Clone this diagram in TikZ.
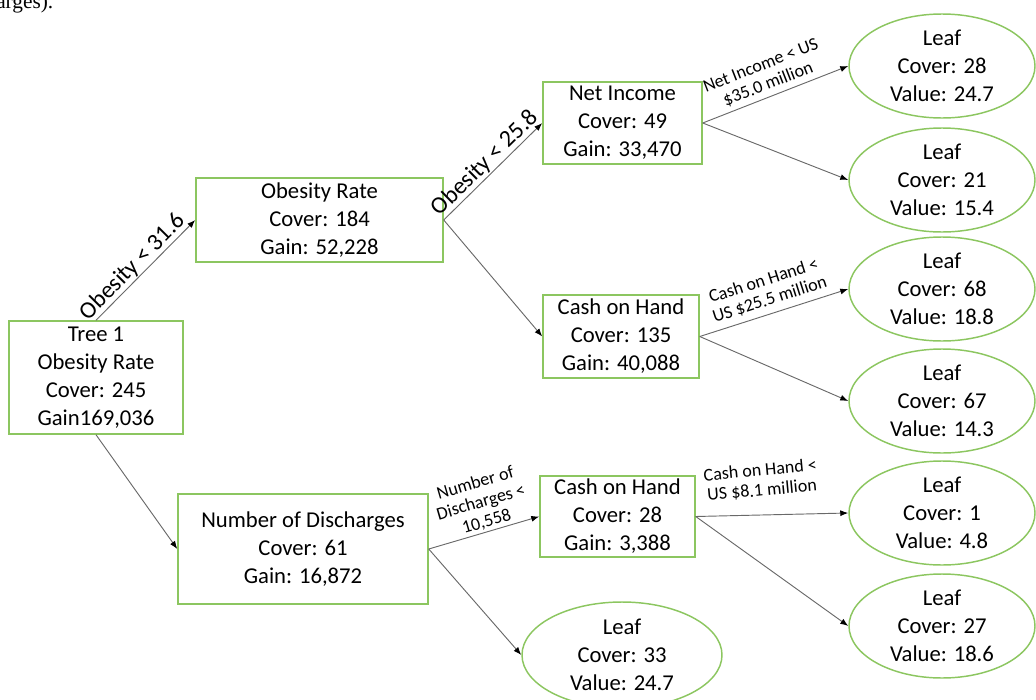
\documentclass[tikz,border=0pt]{standalone}
\usepackage{fontspec}
\setmainfont{Carlito}
\newfontfamily\captionserif{Liberation Serif}
\usepackage{xcolor}
\usetikzlibrary{shapes.geometric, arrows.meta, positioning}

\definecolor{boxgreen}{RGB}{140,198,96}
\definecolor{edgegray}{RGB}{105,105,105}

\begin{document}
\begin{tikzpicture}[x=0.75pt, y=-0.75pt]
	% Styles
	\tikzstyle{split} = [draw=boxgreen, line width=1.1pt, rectangle, align=center, inner sep=0pt, font=\fontsize{17}{21}\selectfont]
	\tikzstyle{leaf} = [draw=boxgreen, line width=1.1pt, ellipse, align=center, inner sep=0pt, minimum width=139.5pt, minimum height=78pt, font=\fontsize{17}{21}\selectfont]
	\tikzstyle{arrow} = [edgegray, line width=0.7pt, -{Latex[length=6pt, width=4.5pt, color=black]}]
	\tikzstyle{cond} = [sloped, above, align=center, text=black, inner sep=1.5pt, font=\fontsize{13.5}{15}\selectfont]

	\useasboundingbox (0,0) rectangle (1036,700);

	% Caption fragment cut off by the page
	\node (caption) [anchor=base west, inner sep=0pt, font=\captionserif\fontsize{16}{18}\selectfont] at (-4,8) {arges).};

	% Split nodes (absolute coordinates, px)
	\node (tree) [split, minimum width=130.5pt, minimum height=84.75pt] at (96,377.5) {Tree 1\\Obesity Rate\\Cover: 245\\Gain169,036};
	\node (obesity) [split, minimum width=185.25pt, minimum height=63pt] at (319.5,220) {Obesity Rate\\Cover: 184\\Gain: 52,228};
	\node (income) [split, minimum width=119.25pt, minimum height=61.5pt] at (622.5,123) {Net Income\\Cover: 49\\Gain: 33,470};
	\node (cashA) [split, minimum width=117pt, minimum height=62.25pt] at (621,336.5) {Cash on Hand\\Cover: 135\\Gain: 40,088};
	\node (discharges) [split, minimum width=187.5pt, minimum height=82.5pt] at (303,549) {Number of Discharges\\Cover: 61\\Gain: 16,872};
	\node (cashB) [split, minimum width=116.25pt, minimum height=60.75pt] at (617.5,516.5) {Cash on Hand\\Cover: 28\\Gain: 3,388};

	% Leaves
	\node (leafA) [leaf] at (942,66) {Leaf\\Cover: 28\\Value: 24.7};
	\node (leafB) [leaf] at (942,180) {Leaf\\Cover: 21\\Value: 15.4};
	\node (leafC) [leaf] at (942,289) {Leaf\\Cover: 68\\Value: 18.8};
	\node (leafD) [leaf] at (942,401) {Leaf\\Cover: 67\\Value: 14.3};
	\node (leafE) [leaf] at (942,513) {Leaf\\Cover: 1\\Value: 4.8};
	\node (leafF) [leaf] at (942,626) {Leaf\\Cover: 27\\Value: 18.6};
	\node (leafG) [leaf, minimum width=150pt, minimum height=79.5pt] at (622,655) {Leaf\\Cover: 33\\Value: 24.7};

	% Connections
	\draw [arrow] (tree.north) -- node [cond, pos=0.45, font=\fontsize{18}{21}\selectfont, inner sep=0.5pt] {Obesity < 31.6} (obesity.west);
	\draw [arrow] (tree.south) -- (discharges.west);
	\draw [arrow] (obesity.east) -- node [cond, pos=0.5, font=\fontsize{18}{21}\selectfont, inner sep=0.5pt] {Obesity < 25.8} (income.west);
	\draw [arrow] (obesity.east) -- (cashA.west);
	\draw [arrow] (income.east) -- node [cond, pos=0.48, yshift=2pt] {Net Income < US\\\$35.0 million} (leafA.west);
	\draw [arrow] (income.east) -- (leafB.west);
	\draw [arrow] (cashA.east) -- node [cond, yshift=3pt] {Cash on Hand <\\US \$25.5 million} (leafC.west);
	\draw [arrow] (cashA.east) -- (leafD.west);
	\draw [arrow] (discharges.east) -- node [cond, pos=0.55] {Number of\\Discharges <\\10,558} (cashB.west);
	\draw [arrow] (discharges.east) -- (leafG.west);
	\draw [arrow] (cashB.east) -- node [cond, pos=0.45, rotate=4, yshift=11pt] {Cash on Hand <\\US \$8.1 million} (leafE.west);
	\draw [arrow] (cashB.east) -- (leafF.west);

\end{tikzpicture}
\end{document}
